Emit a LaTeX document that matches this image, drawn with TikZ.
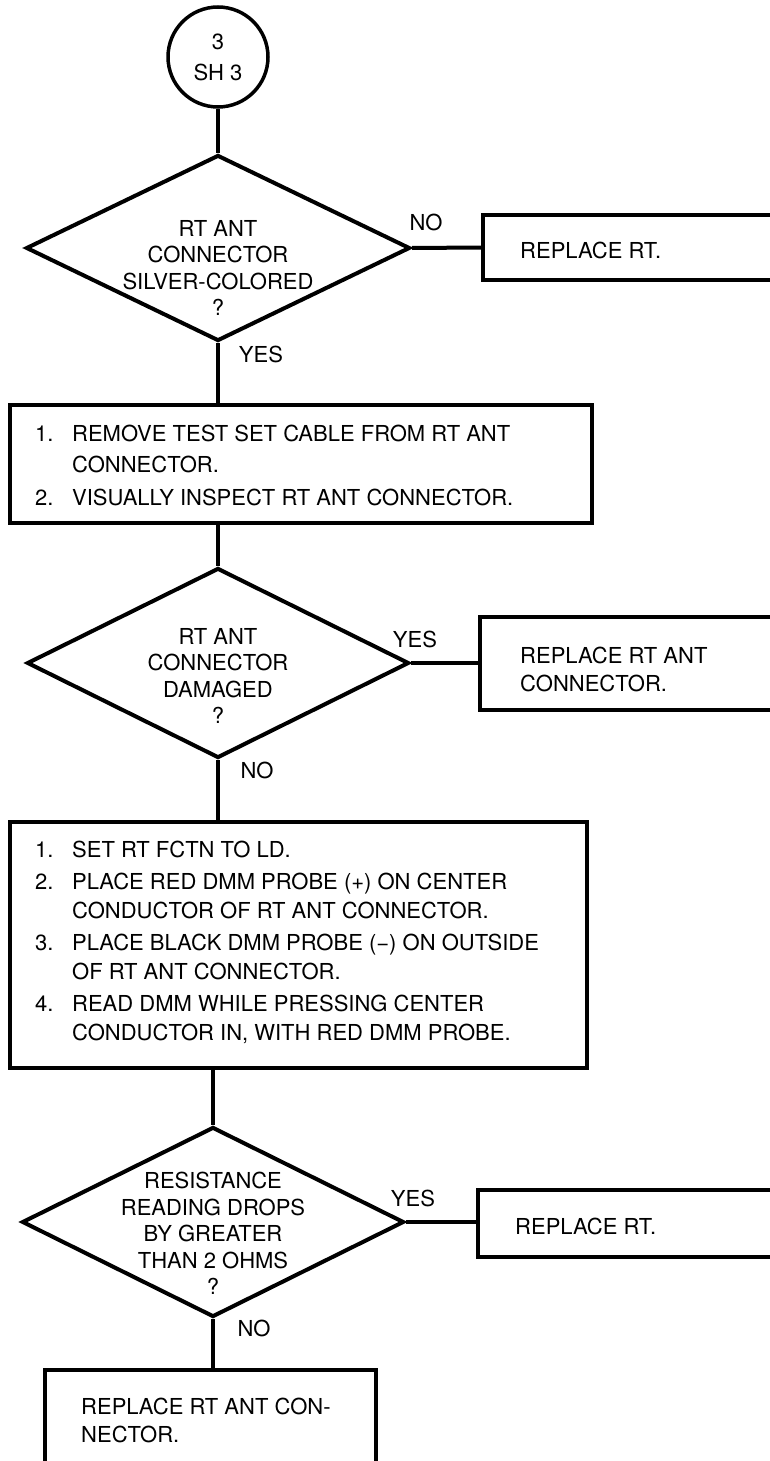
\documentclass[tikz,border=0pt]{standalone}
\usepackage{fontspec}
\setmainfont{TeX Gyre Heros}
\usetikzlibrary{shapes.geometric}
\begin{document}
\begin{tikzpicture}[x=1pt,y=-1pt,
  every node/.style={font=\fontsize{22}{28}\selectfont},
  ln/.style={line width=4pt},
  cn/.style={line width=4.5pt},
  dia/.style={draw, ln, diamond, inner sep=0pt, minimum width=384pt, minimum height=186pt},
  boxn/.style={draw, ln, rectangle, inner sep=0pt},
  txt/.style={inner sep=0pt, align=left, anchor=north west},
  dtxt/.style={inner sep=0pt, align=center, anchor=north, font=\fontsize{22}{26.5}\selectfont},
  lbl/.style={inner sep=0pt}]
\useasboundingbox (0,0) rectangle (769,1461);
\fill[white] (0,0) rectangle (769,1461);

% start connector
\node[draw, line width=3.5pt, circle, minimum size=100pt, inner sep=0pt, align=center,
      font=\fontsize{22}{31}\selectfont] (c) at (218,57) {3\\SH 3};

% decision 1
\node[dia] (d1) at (218,248) {};
\node[dtxt] (d1t) at (218,220) {RT ANT\\CONNECTOR\\SILVER-COLORED\\?};
\node[boxn, minimum width=307pt, minimum height=65pt] (r1) at (636.5,247.5) {};
\node[txt] (r1t) at (520,242) {REPLACE RT.};
\node[lbl] (no1) at (426,222) {NO};
\node[lbl] (yes1) at (261,354) {YES};

% action box 2
\node[boxn, minimum width=582pt, minimum height=118pt] (b2) at (301,464) {};
\node[txt, font=\fontsize{22}{31}\selectfont] (b2t) at (35,425)
  {\makebox[37pt][l]{1.}REMOVE TEST SET CABLE FROM RT ANT\\
   \hspace*{37pt}CONNECTOR.\\[2pt]
   \makebox[37pt][l]{2.}VISUALLY INSPECT RT ANT CONNECTOR.};

% decision 2
\node[dia, minimum width=382pt, minimum height=190pt] (d2) at (218,663) {};
\node[dtxt] (d2t) at (218,628) {RT ANT\\CONNECTOR\\DAMAGED\\?};
\node[boxn, minimum width=310pt, minimum height=93pt] (r2) at (635,663.5) {};
\node[txt] (r2t) at (520,647) {REPLACE RT ANT\\CONNECTOR.};
\node[lbl] (yes2) at (415,639) {YES};
\node[lbl] (no2) at (257,770) {NO};

% action box 3
\node[boxn, minimum width=577pt, minimum height=246pt] (b3) at (298.5,945) {};
\node[txt, font=\fontsize{22}{29}\selectfont] (b3t) at (35,841)
  {\makebox[37pt][l]{1.}SET RT FCTN TO LD.\\[3pt]
   \makebox[37pt][l]{2.}PLACE RED DMM PROBE (+) ON CENTER\\
   \hspace*{37pt}CONDUCTOR OF RT ANT CONNECTOR.\\[3pt]
   \makebox[37pt][l]{3.}PLACE BLACK DMM PROBE (−) ON OUTSIDE\\
   \hspace*{37pt}OF RT ANT CONNECTOR.\\[3pt]
   \makebox[37pt][l]{4.}READ DMM WHILE PRESSING CENTER\\
   \hspace*{37pt}CONDUCTOR IN, WITH RED DMM PROBE.};

% decision 3
\node[dia, minimum width=382pt, minimum height=190pt] (d3) at (213,1222) {};
\node[dtxt] (d3t) at (213,1172) {RESISTANCE\\READING DROPS\\BY GREATER\\THAN 2 OHMS\\?};
\node[boxn, minimum width=312pt, minimum height=67pt] (r3) at (634,1223.5) {};
\node[txt] (r3t) at (515,1218) {REPLACE RT.};
\node[lbl] (yes3) at (413,1198) {YES};
\node[lbl] (no3) at (254,1328) {NO};

% final box (cut off at bottom)
\node[boxn, minimum width=331pt, minimum height=130pt] (b4) at (210.5,1435) {};
\node[txt] (b4t) at (81,1398) {REPLACE RT ANT CON-\\NECTOR.};

% connectors
\draw[cn] (c.south) -- (d1.north);
\draw[ln] (d1.east) -- (r1.west);
\draw[cn] (d1.south) -- (d1.south |- b2.north);
\draw[cn] (b2.south -| d2.north) -- (d2.north);
\draw[ln] (d2.east) -- (d2.east -| r2.west);
\draw[cn] (d2.south) -- (d2.south |- b3.north);
\draw[cn] (b3.south -| d3.north) -- (d3.north);
\draw[ln] (d3.east) -- (d3.east -| r3.west);
\draw[cn] (d3.south) -- (d3.south |- b4.north);
\end{tikzpicture}
\end{document}
